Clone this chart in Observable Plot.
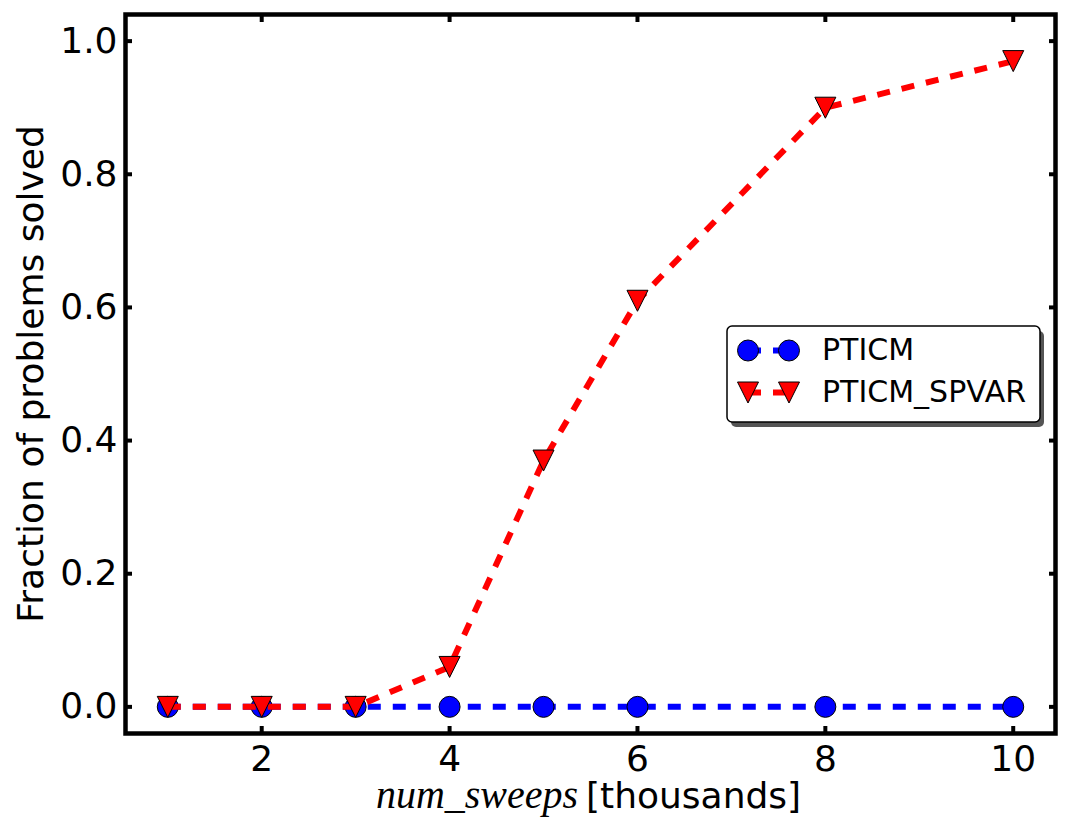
<!DOCTYPE html>
<html><head><meta charset="utf-8">
<script src="https://cdn.jsdelivr.net/npm/d3@7"></script>
<script src="https://cdn.jsdelivr.net/npm/@observablehq/plot@0.6"></script>
<style>html,body{margin:0;padding:0;background:#fff;}</style>
</head><body><div id="chart"></div>
<script>
const sweeps = [1, 2, 3, 4, 5, 6, 8, 10];
const pticm = [0, 0, 0, 0, 0, 0, 0, 0];
const pticmSpvar = [0, 0, 0, 0.06, 0.37, 0.61, 0.90, 0.97];
const seriesNames = ["PTICM", "PTICM_SPVAR"];
const xTicks = [2, 4, 6, 8, 10];
const yTicks = [0.0, 0.2, 0.4, 0.6, 0.8, 1.0];
const yLabel = "Fraction of problems solved";
const xLabelVar = "num_sweeps";
const xLabelUnit = "[thousands]";

const dataA = sweeps.map((x, i) => ({x, y: pticm[i]}));
const dataB = sweeps.map((x, i) => ({x, y: pticmSpvar[i]}));

const triangleDown = {
  draw(ctx, size) {
    const r = Math.sqrt(size / Math.PI);
    ctx.moveTo(-r, -r); ctx.lineTo(r, -r); ctx.lineTo(0, r); ctx.closePath();
  }
};

const font = "DejaVu Sans, sans-serif";
const tickStroke = 4;
const tickLen = -7;
const dash = "13,12";
const lw = 6;

const svg = Plot.plot({
  width: 1069, height: 840,
  marginLeft: 125, marginRight: 14, marginTop: 14, marginBottom: 107,
  style: {fontFamily: font, fontSize: "36px", background: "#fff", color: "#000"},
  x: {domain: [0.55, 10.45]},
  y: {domain: [-0.04, 1.04]},
  marks: [
    Plot.axisX({anchor: "bottom", ticks: xTicks, tickSize: tickLen, tickPadding: 19, strokeWidth: tickStroke, fontSize: 36, label: null, tickFormat: d => String(d)}),
    Plot.axisX({anchor: "top", ticks: xTicks, tickSize: tickLen, strokeWidth: tickStroke, label: null, tickFormat: () => ""}),
    Plot.axisY({anchor: "left", ticks: yTicks, tickSize: tickLen, tickPadding: 15, strokeWidth: tickStroke, fontSize: 36, label: null, tickFormat: d3.format(".1f")}),
    Plot.axisY({anchor: "right", ticks: yTicks, tickSize: tickLen, strokeWidth: tickStroke, label: null, tickFormat: () => ""}),
    Plot.line(dataA, {x: "x", y: "y", stroke: "#0000ff", strokeWidth: lw, strokeDasharray: dash, strokeLinecap: "butt"}),
    Plot.dot(dataA, {x: "x", y: "y", r: 10.5, fill: "#0000ff", stroke: "#000", strokeWidth: 1}),
    Plot.line(dataB, {x: "x", y: "y", stroke: "#ff0000", strokeWidth: lw, strokeDasharray: dash, strokeLinecap: "butt"}),
    Plot.dot(dataB, {x: "x", y: "y", r: 10.5, symbol: triangleDown, fill: "#ff0000", stroke: "#000", strokeWidth: 1}),
    Plot.frame({stroke: "#000", strokeWidth: 4.5}),
    Plot.text([yLabel], {frameAnchor: "left", dx: -94.5, rotate: -90, textAnchor: "middle", lineAnchor: "middle", fontSize: 36, fill: "#000"})
  ]
});
document.getElementById("chart").appendChild(svg);

const s = d3.select(svg);
// x-axis label (mixed fonts)
s.append("text").attr("x", 578).attr("y", 808).attr("text-anchor", "end")
  .attr("font-family", "Liberation Serif, serif").attr("font-style", "italic").attr("font-size", 39)
  .attr("textLength", 202).attr("lengthAdjust", "spacingAndGlyphs").attr("fill", "#000").text(xLabelVar);
s.append("text").attr("x", 586).attr("y", 808).attr("text-anchor", "start")
  .attr("font-family", font).attr("font-size", 36).attr("fill", "#000").text(xLabelUnit);

// legend
const lg = s.append("g");
lg.append("rect").attr("x", 731).attr("y", 331).attr("width", 313).attr("height", 96).attr("rx", 5).attr("fill", "#555");
lg.append("rect").attr("x", 727).attr("y", 326).attr("width", 313).attr("height", 96).attr("rx", 5).attr("fill", "#fff").attr("stroke", "#000").attr("stroke-width", 1.5);
const rows = [
  {name: seriesNames[0], color: "#0000ff", sym: "circle", y: 350.5},
  {name: seriesNames[1], color: "#ff0000", sym: "tri", y: 392.5}
];
for (const r of rows) {
  lg.append("line").attr("x1", 748).attr("x2", 789).attr("y1", r.y).attr("y2", r.y)
    .attr("stroke", r.color).attr("stroke-width", lw).attr("stroke-dasharray", dash);
  for (const cx of [748, 789]) {
    if (r.sym === "circle") {
      lg.append("circle").attr("cx", cx).attr("cy", r.y).attr("r", 10.5).attr("fill", r.color).attr("stroke", "#000").attr("stroke-width", 1);
    } else {
      const p = d3.path(); triangleDown.draw(p, 10.5 * 10.5 * Math.PI);
      lg.append("path").attr("d", p.toString()).attr("transform", `translate(${cx},${r.y})`).attr("fill", r.color).attr("stroke", "#000").attr("stroke-width", 1);
    }
  }
  lg.append("text").attr("x", 822).attr("y", r.y + 9.5).attr("text-anchor", "start").attr("font-family", font).attr("font-size", 30).attr("fill", "#000").text(r.name);
}
</script>
</body></html>
